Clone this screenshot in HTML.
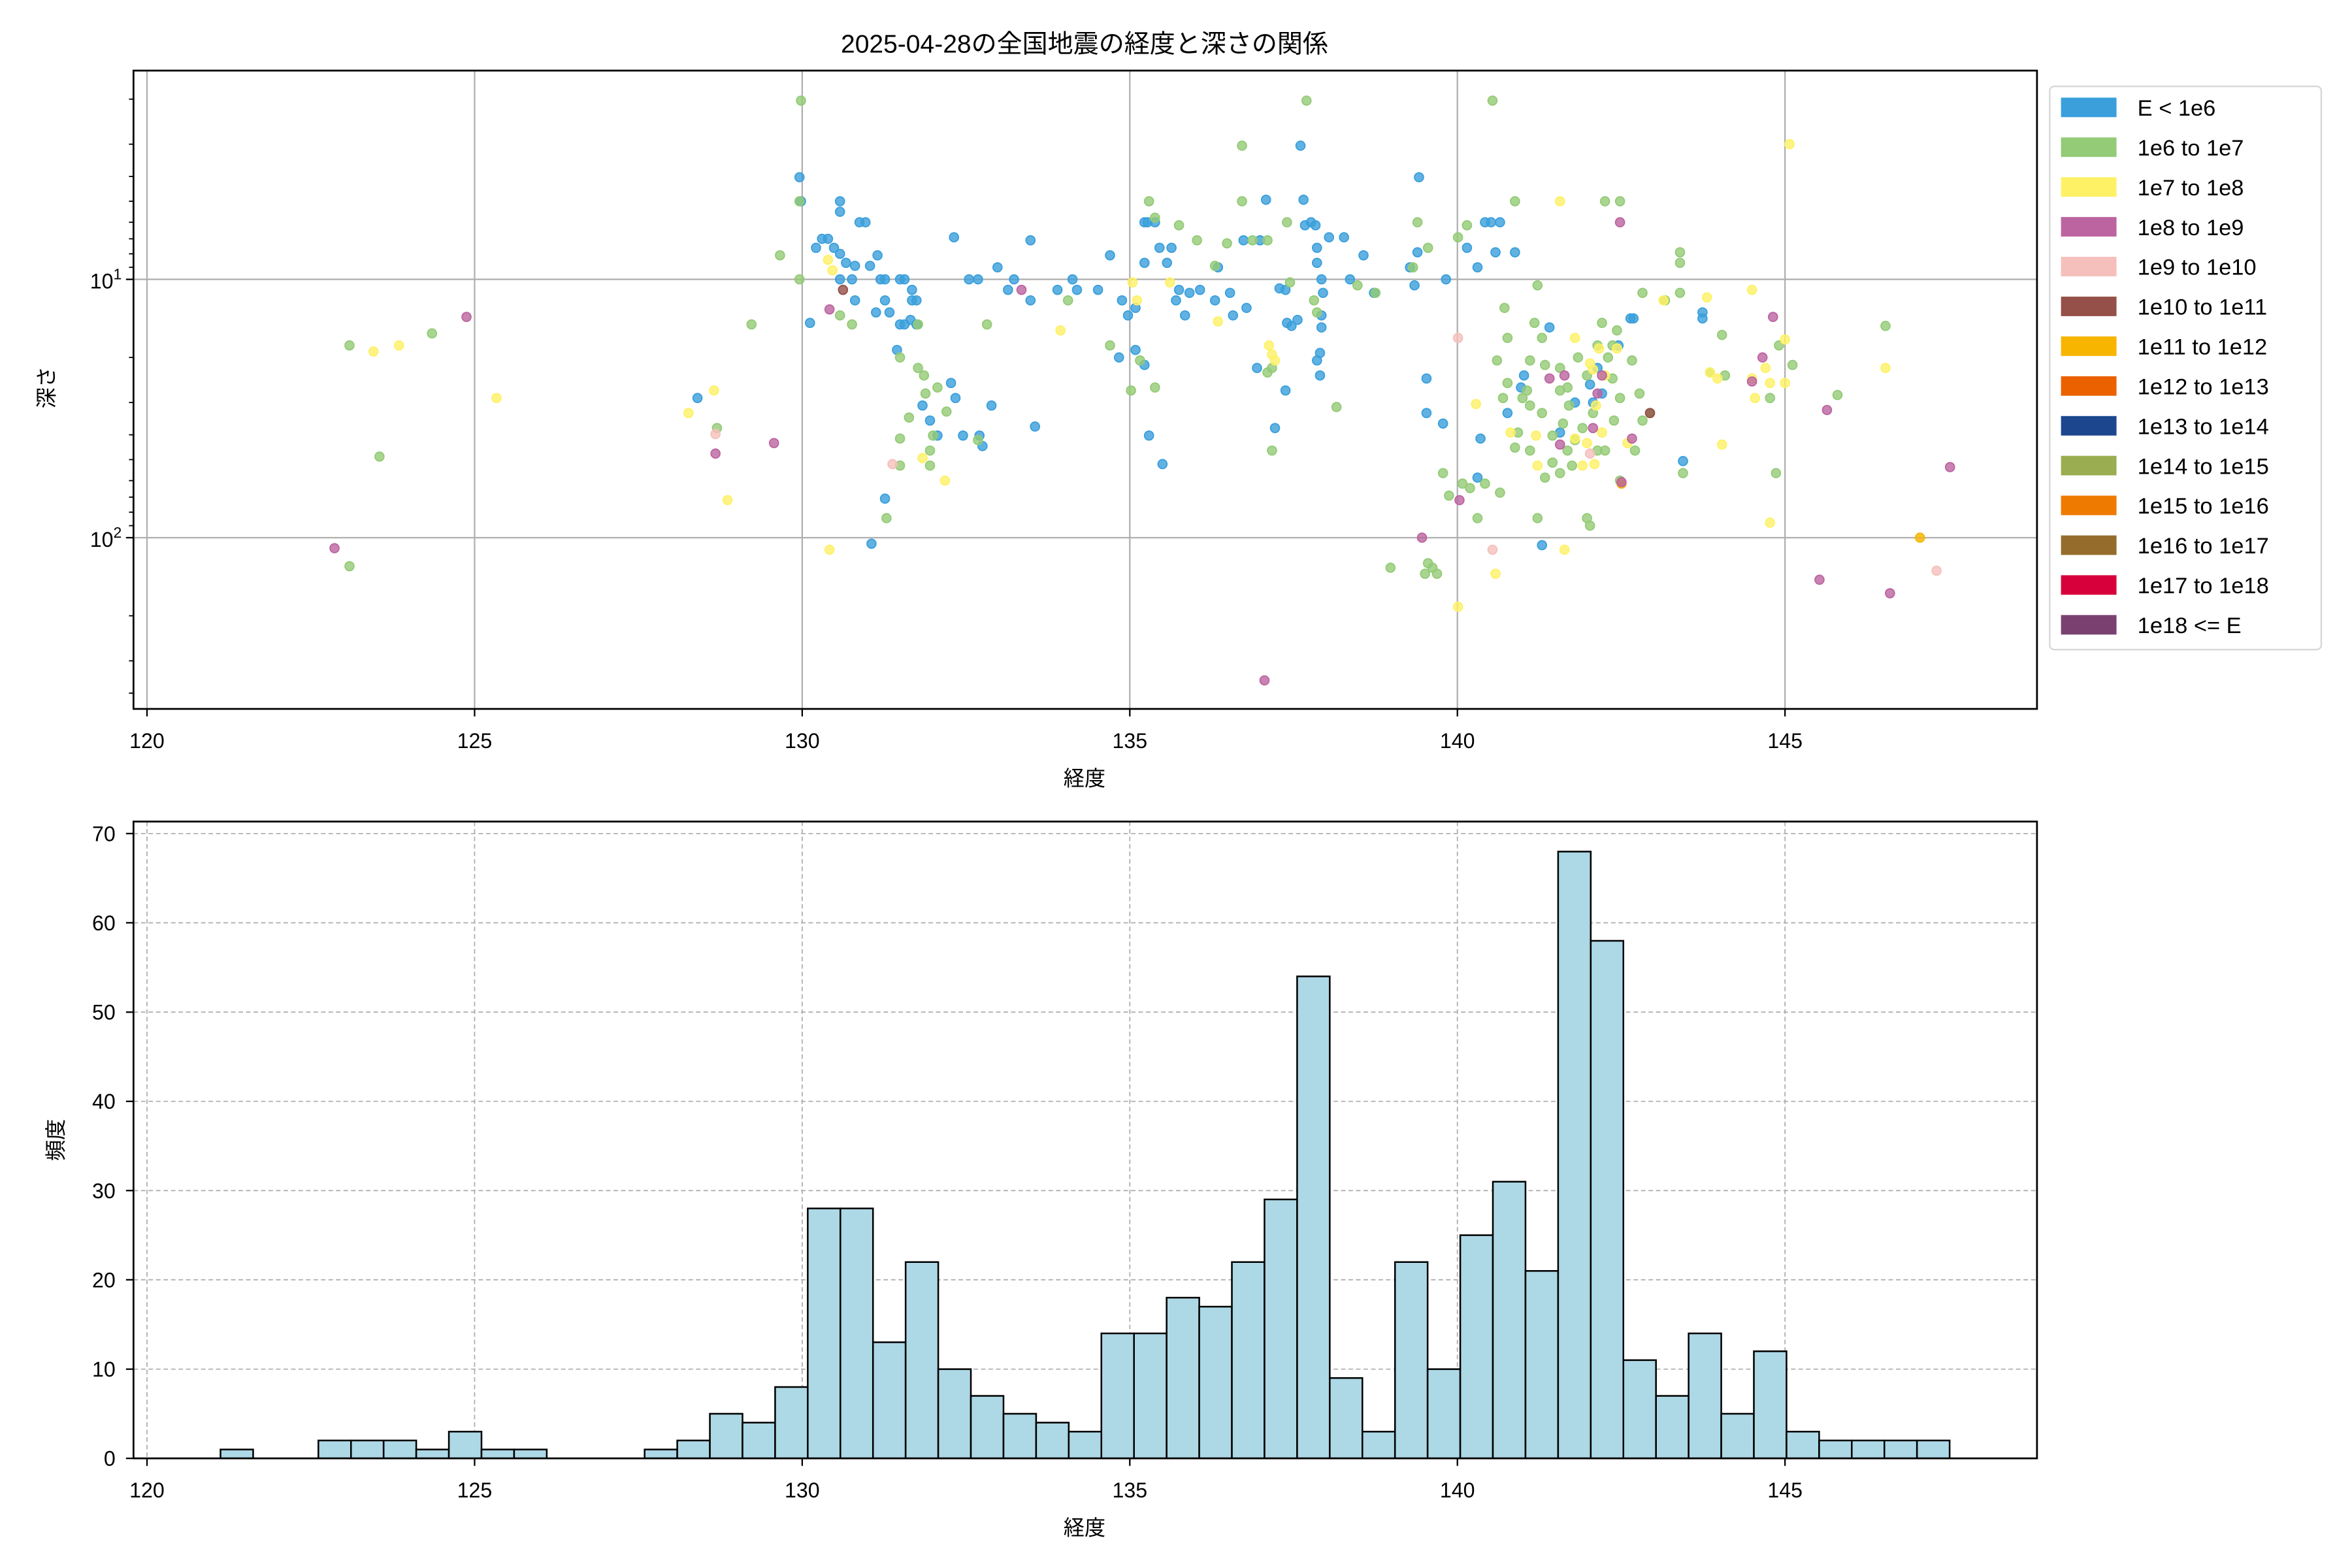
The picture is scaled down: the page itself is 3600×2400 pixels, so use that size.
<!DOCTYPE html>
<html><head><meta charset="utf-8"><style>
html,body{margin:0;padding:0;background:#fff}
svg{display:block}
text{font-family:"Liberation Sans","Noto Sans CJK JP",sans-serif;fill:#000}
.b circle{fill:#3a9fdb;stroke:#3a9fdb}
.g circle{fill:#93cb76;stroke:#93cb76}
.y circle{fill:#fef166;stroke:#fef166}
.p circle{fill:#bc64a0;stroke:#bc64a0}
.k circle{fill:#f5c0bb;stroke:#f5c0bb}
.r circle{fill:#955049;stroke:#955049}
.o circle{fill:#f7b500;stroke:#f7b500}
.pts circle{r:3;fill-opacity:.8;stroke-width:.8}
</style></head><body>
<svg width="3600" height="2400" viewBox="0 0 1568 1044" preserveAspectRatio="none" xmlns="http://www.w3.org/2000/svg">
<rect width="1568" height="1044" fill="#fff"/>
<text x="723" y="35" font-size="17" text-anchor="middle">2025-04-28の全国地震の経度と深さの関係</text>
<g stroke="#b0b0b0" stroke-width="1">
<line x1="98" y1="47" x2="98" y2="472"/><line x1="316.4" y1="47" x2="316.4" y2="472"/><line x1="534.8" y1="47" x2="534.8" y2="472"/><line x1="753.2" y1="47" x2="753.2" y2="472"/><line x1="971.6" y1="47" x2="971.6" y2="472"/><line x1="1190" y1="47" x2="1190" y2="472"/>
<line x1="89" y1="186" x2="1358" y2="186"/><line x1="89" y1="358" x2="1358" y2="358"/>
</g>
<g class="pts">
<g class="b">
<circle cx="533" cy="118"/><circle cx="534" cy="134"/><circle cx="560" cy="134"/><circle cx="560" cy="141"/><circle cx="573" cy="148"/><circle cx="577" cy="148"/><circle cx="548" cy="159"/><circle cx="552" cy="159"/><circle cx="544" cy="165"/><circle cx="556" cy="165"/><circle cx="560" cy="169"/><circle cx="564" cy="175"/><circle cx="570" cy="177"/><circle cx="580" cy="177"/><circle cx="587" cy="186"/><circle cx="590" cy="186"/><circle cx="560" cy="186"/><circle cx="568" cy="186"/><circle cx="600" cy="186"/><circle cx="603" cy="186"/><circle cx="608" cy="200"/><circle cx="611" cy="200"/><circle cx="590" cy="200"/><circle cx="608" cy="193"/><circle cx="570" cy="200"/><circle cx="584" cy="208"/><circle cx="593" cy="208"/><circle cx="607" cy="213"/><circle cx="611" cy="216"/><circle cx="600" cy="216"/><circle cx="603" cy="216"/><circle cx="598" cy="233"/><circle cx="615" cy="270"/><circle cx="620" cy="280"/><circle cx="625" cy="290"/><circle cx="634" cy="255"/><circle cx="637" cy="265"/><circle cx="646" cy="186"/><circle cx="652" cy="186"/><circle cx="642" cy="290"/><circle cx="653" cy="290"/><circle cx="655" cy="297"/><circle cx="661" cy="270"/><circle cx="636" cy="158"/><circle cx="665" cy="178"/><circle cx="672" cy="193"/><circle cx="676" cy="186"/><circle cx="687" cy="160"/><circle cx="690" cy="284"/><circle cx="687" cy="200"/><circle cx="715" cy="186"/><circle cx="705" cy="193"/><circle cx="718" cy="193"/><circle cx="732" cy="193"/><circle cx="740" cy="170"/><circle cx="748" cy="200"/><circle cx="752" cy="210"/><circle cx="757" cy="205"/><circle cx="757" cy="233"/><circle cx="763" cy="175"/><circle cx="763" cy="148"/><circle cx="765" cy="148"/><circle cx="770" cy="148"/><circle cx="773" cy="165"/><circle cx="781" cy="165"/><circle cx="778" cy="175"/><circle cx="786" cy="193"/><circle cx="784" cy="200"/><circle cx="793" cy="195"/><circle cx="790" cy="210"/><circle cx="800" cy="193"/><circle cx="812" cy="178"/><circle cx="810" cy="200"/><circle cx="820" cy="195"/><circle cx="822" cy="210"/><circle cx="829" cy="160"/><circle cx="831" cy="205"/><circle cx="840" cy="160"/><circle cx="844" cy="133"/><circle cx="853" cy="192"/><circle cx="857" cy="193"/><circle cx="861" cy="217"/><circle cx="865" cy="213"/><circle cx="858" cy="215"/><circle cx="869" cy="133"/><circle cx="870" cy="150"/><circle cx="874" cy="148"/><circle cx="877" cy="150"/><circle cx="878" cy="165"/><circle cx="878" cy="175"/><circle cx="881" cy="186"/><circle cx="882" cy="195"/><circle cx="881" cy="210"/><circle cx="881" cy="218"/><circle cx="878" cy="240"/><circle cx="880" cy="235"/><circle cx="886" cy="158"/><circle cx="867" cy="97"/><circle cx="896" cy="158"/><circle cx="900" cy="186"/><circle cx="850" cy="285"/><circle cx="857" cy="260"/><circle cx="909" cy="170"/><circle cx="916" cy="195"/><circle cx="940" cy="178"/><circle cx="943" cy="190"/><circle cx="945" cy="168"/><circle cx="946" cy="118"/><circle cx="951" cy="252"/><circle cx="951" cy="275"/><circle cx="964" cy="186"/><circle cx="978" cy="165"/><circle cx="985" cy="178"/><circle cx="990" cy="148"/><circle cx="994" cy="148"/><circle cx="997" cy="168"/><circle cx="1000" cy="148"/><circle cx="1010" cy="168"/><circle cx="1005" cy="275"/><circle cx="1014" cy="258"/><circle cx="1016" cy="250"/><circle cx="1033" cy="218"/><circle cx="1040" cy="288"/><circle cx="1060" cy="256"/><circle cx="1079" cy="230"/><circle cx="1087" cy="212"/><circle cx="1089" cy="212"/><circle cx="1135" cy="212"/><circle cx="1135" cy="208"/><circle cx="1122" cy="307"/><circle cx="1028" cy="363"/><circle cx="962" cy="282"/><circle cx="987" cy="292"/><circle cx="985" cy="318"/><circle cx="1065" cy="245"/><circle cx="1068" cy="262"/><circle cx="1050" cy="268"/><circle cx="1062" cy="268"/><circle cx="581" cy="362"/><circle cx="590" cy="332"/><circle cx="540" cy="215"/><circle cx="585" cy="170"/><circle cx="838" cy="245"/><circle cx="880" cy="250"/><circle cx="465" cy="265"/><circle cx="763" cy="243"/><circle cx="775" cy="309"/><circle cx="766" cy="290"/><circle cx="746" cy="238"/>
</g>
<g class="g">
<circle cx="534" cy="67"/><circle cx="533" cy="134"/><circle cx="533" cy="186"/><circle cx="520" cy="170"/><circle cx="501" cy="216"/><circle cx="568" cy="216"/><circle cx="560" cy="210"/><circle cx="612" cy="216"/><circle cx="600" cy="238"/><circle cx="616" cy="250"/><circle cx="612" cy="245"/><circle cx="600" cy="292"/><circle cx="600" cy="310"/><circle cx="591" cy="345"/><circle cx="631" cy="274"/><circle cx="620" cy="310"/><circle cx="625" cy="258"/><circle cx="617" cy="262"/><circle cx="606" cy="278"/><circle cx="652" cy="293"/><circle cx="658" cy="216"/><circle cx="712" cy="200"/><circle cx="740" cy="230"/><circle cx="754" cy="260"/><circle cx="770" cy="258"/><circle cx="760" cy="240"/><circle cx="766" cy="134"/><circle cx="770" cy="145"/><circle cx="786" cy="150"/><circle cx="798" cy="160"/><circle cx="810" cy="177"/><circle cx="818" cy="162"/><circle cx="828" cy="134"/><circle cx="835" cy="160"/><circle cx="845" cy="160"/><circle cx="858" cy="148"/><circle cx="871" cy="67"/><circle cx="828" cy="97"/><circle cx="876" cy="200"/><circle cx="878" cy="208"/><circle cx="891" cy="271"/><circle cx="905" cy="190"/><circle cx="917" cy="195"/><circle cx="945" cy="148"/><circle cx="952" cy="165"/><circle cx="942" cy="178"/><circle cx="972" cy="158"/><circle cx="995" cy="67"/><circle cx="1010" cy="134"/><circle cx="1070" cy="134"/><circle cx="1080" cy="134"/><circle cx="1023" cy="215"/><circle cx="1028" cy="225"/><circle cx="1020" cy="240"/><circle cx="1030" cy="243"/><circle cx="1040" cy="245"/><circle cx="1040" cy="260"/><circle cx="1045" cy="258"/><circle cx="1046" cy="270"/><circle cx="1052" cy="238"/><circle cx="1058" cy="250"/><circle cx="1065" cy="230"/><circle cx="1068" cy="215"/><circle cx="1072" cy="238"/><circle cx="1075" cy="230"/><circle cx="1078" cy="220"/><circle cx="1075" cy="252"/><circle cx="1080" cy="265"/><circle cx="1076" cy="280"/><circle cx="1065" cy="300"/><circle cx="1055" cy="285"/><circle cx="1050" cy="293"/><circle cx="1045" cy="300"/><circle cx="1040" cy="315"/><circle cx="1035" cy="308"/><circle cx="1030" cy="318"/><circle cx="1028" cy="275"/><circle cx="1012" cy="288"/><circle cx="1020" cy="300"/><circle cx="1020" cy="270"/><circle cx="1010" cy="298"/><circle cx="1005" cy="255"/><circle cx="998" cy="240"/><circle cx="990" cy="322"/><circle cx="985" cy="345"/><circle cx="980" cy="325"/><circle cx="966" cy="330"/><circle cx="955" cy="378"/><circle cx="950" cy="382"/><circle cx="952" cy="375"/><circle cx="958" cy="382"/><circle cx="927" cy="378"/><circle cx="1060" cy="350"/><circle cx="1058" cy="345"/><circle cx="1080" cy="320"/><circle cx="1090" cy="300"/><circle cx="1093" cy="262"/><circle cx="1095" cy="280"/><circle cx="1088" cy="240"/><circle cx="1100" cy="275"/><circle cx="1095" cy="195"/><circle cx="1110" cy="200"/><circle cx="1120" cy="195"/><circle cx="1120" cy="175"/><circle cx="1120" cy="168"/><circle cx="1122" cy="315"/><circle cx="1140" cy="248"/><circle cx="1148" cy="223"/><circle cx="1150" cy="250"/><circle cx="1180" cy="265"/><circle cx="1184" cy="315"/><circle cx="1186" cy="230"/><circle cx="1195" cy="243"/><circle cx="1257" cy="217"/><circle cx="1225" cy="263"/><circle cx="1025" cy="190"/><circle cx="1005" cy="225"/><circle cx="1002" cy="265"/><circle cx="1003" cy="205"/><circle cx="978" cy="150"/><circle cx="962" cy="315"/><circle cx="975" cy="322"/><circle cx="1000" cy="328"/><circle cx="233" cy="230"/><circle cx="288" cy="222"/><circle cx="253" cy="304"/><circle cx="233" cy="377"/><circle cx="478" cy="285"/><circle cx="622" cy="290"/><circle cx="620" cy="300"/><circle cx="1025" cy="345"/><circle cx="1015" cy="265"/><circle cx="1035" cy="290"/><circle cx="1048" cy="310"/><circle cx="1070" cy="300"/><circle cx="1062" cy="275"/><circle cx="1018" cy="260"/><circle cx="1042" cy="282"/><circle cx="848" cy="245"/><circle cx="845" cy="248"/><circle cx="848" cy="300"/><circle cx="860" cy="188"/>
</g>
<g class="y">
<circle cx="249" cy="234"/><circle cx="266" cy="230"/><circle cx="331" cy="265"/><circle cx="459" cy="275"/><circle cx="476" cy="260"/><circle cx="485" cy="333"/><circle cx="553" cy="366"/><circle cx="552" cy="173"/><circle cx="555" cy="180"/><circle cx="630" cy="320"/><circle cx="615" cy="305"/><circle cx="707" cy="220"/><circle cx="755" cy="188"/><circle cx="758" cy="200"/><circle cx="780" cy="188"/><circle cx="812" cy="214"/><circle cx="846" cy="230"/><circle cx="848" cy="236"/><circle cx="850" cy="240"/><circle cx="972" cy="404"/><circle cx="997" cy="382"/><circle cx="1043" cy="366"/><circle cx="1040" cy="134"/><circle cx="984" cy="269"/><circle cx="1007" cy="288"/><circle cx="1070" cy="250"/><circle cx="1062" cy="246"/><circle cx="1060" cy="242"/><circle cx="1064" cy="270"/><circle cx="1066" cy="232"/><circle cx="1025" cy="310"/><circle cx="1024" cy="290"/><circle cx="1055" cy="310"/><circle cx="1058" cy="295"/><circle cx="1068" cy="288"/><circle cx="1078" cy="232"/><circle cx="1050" cy="292"/><circle cx="1138" cy="198"/><circle cx="1168" cy="193"/><circle cx="1190" cy="226"/><circle cx="1180" cy="348"/><circle cx="1140" cy="248"/><circle cx="1145" cy="252"/><circle cx="1168" cy="252"/><circle cx="1180" cy="255"/><circle cx="1190" cy="255"/><circle cx="1193" cy="96"/><circle cx="1148" cy="296"/><circle cx="1109" cy="200"/><circle cx="1050" cy="225"/><circle cx="1257" cy="245"/><circle cx="1085" cy="295"/><circle cx="1063" cy="309"/><circle cx="1177" cy="245"/><circle cx="1170" cy="265"/>
</g>
<g class="p">
<circle cx="223" cy="365"/><circle cx="311" cy="211"/><circle cx="477" cy="302"/><circle cx="516" cy="295"/><circle cx="553" cy="206"/><circle cx="681" cy="193"/><circle cx="948" cy="358"/><circle cx="973" cy="333"/><circle cx="1080" cy="148"/><circle cx="1068" cy="250"/><circle cx="1043" cy="250"/><circle cx="1065" cy="262"/><circle cx="1088" cy="292"/><circle cx="1168" cy="254"/><circle cx="1175" cy="238"/><circle cx="1218" cy="273"/><circle cx="1213" cy="386"/><circle cx="1260" cy="395"/><circle cx="1300" cy="311"/><circle cx="1062" cy="285"/><circle cx="1182" cy="211"/><circle cx="1040" cy="296"/><circle cx="843" cy="453"/><circle cx="1033" cy="252"/>
</g>
<g class="k">
<circle cx="477" cy="289"/><circle cx="595" cy="309"/><circle cx="972" cy="225"/><circle cx="995" cy="366"/><circle cx="1291" cy="380"/><circle cx="1060" cy="302"/>
</g>
<g class="r"><circle cx="562" cy="193" r="4"/><circle cx="1100" cy="275" r="4"/></g>
<g class="o"><circle cx="1081" cy="322" r="5"/><circle cx="1280" cy="358" r="5"/></g>
<g class="p"><circle cx="1081" cy="321" r="3.5"/></g>
</g>
<rect x="89" y="47" width="1269" height="425" fill="none" stroke="#000" stroke-width="1.2"/>
<g stroke="#000" stroke-width="1">
<line x1="98" y1="472" x2="98" y2="477"/><line x1="316.4" y1="472" x2="316.4" y2="477"/><line x1="534.8" y1="472" x2="534.8" y2="477"/><line x1="753.2" y1="472" x2="753.2" y2="477"/><line x1="971.6" y1="472" x2="971.6" y2="477"/><line x1="1190" y1="472" x2="1190" y2="477"/>
<line x1="84" y1="186" x2="89" y2="186"/><line x1="84" y1="358" x2="89" y2="358"/>
<g stroke-width=".8">
<line x1="86" y1="66" x2="89" y2="66"/><line x1="86" y1="96" x2="89" y2="96"/><line x1="86" y1="117.5" x2="89" y2="117.5"/><line x1="86" y1="134" x2="89" y2="134"/><line x1="86" y1="148" x2="89" y2="148"/><line x1="86" y1="159" x2="89" y2="159"/><line x1="86" y1="169" x2="89" y2="169"/><line x1="86" y1="178" x2="89" y2="178"/>
<line x1="86" y1="238" x2="89" y2="238"/><line x1="86" y1="268" x2="89" y2="268"/><line x1="86" y1="289.5" x2="89" y2="289.5"/><line x1="86" y1="306" x2="89" y2="306"/><line x1="86" y1="320" x2="89" y2="320"/><line x1="86" y1="331" x2="89" y2="331"/><line x1="86" y1="341" x2="89" y2="341"/><line x1="86" y1="350" x2="89" y2="350"/>
<line x1="86" y1="410" x2="89" y2="410"/><line x1="86" y1="440" x2="89" y2="440"/><line x1="86" y1="461.5" x2="89" y2="461.5"/>
</g></g>
<g font-size="14" text-anchor="middle">
<text x="98" y="498">120</text><text x="316.4" y="498">125</text><text x="534.8" y="498">130</text><text x="753.2" y="498">135</text><text x="971.6" y="498">140</text><text x="1190" y="498">145</text>
</g>
<text x="60" y="192" font-size="14">10<tspan font-size="10" dy="-6">1</tspan></text>
<text x="60" y="364" font-size="14">10<tspan font-size="10" dy="-6">2</tspan></text>
<text x="723" y="523" font-size="14" text-anchor="middle">経度</text>
<text transform="translate(36,258) rotate(-90)" font-size="14" text-anchor="middle">深さ</text>
<rect x="1366.5" y="57.5" width="181" height="375" rx="3" fill="#fff" stroke="#d6d6d6"/>
<g>
<rect x="1374" y="65" width="37" height="13" fill="#3a9fdb"/><rect x="1374" y="91.5" width="37" height="13" fill="#93cb76"/><rect x="1374" y="118" width="37" height="13" fill="#fef166"/><rect x="1374" y="144.5" width="37" height="13" fill="#bc64a0"/><rect x="1374" y="171" width="37" height="13" fill="#f5c0bb"/><rect x="1374" y="197.5" width="37" height="13" fill="#955049"/><rect x="1374" y="224" width="37" height="13" fill="#f7b500"/><rect x="1374" y="250.5" width="37" height="13" fill="#eb6100"/><rect x="1374" y="277" width="37" height="13" fill="#1c478e"/><rect x="1374" y="303.5" width="37" height="13" fill="#9aad50"/><rect x="1374" y="330" width="37" height="13" fill="#ef7a00"/><rect x="1374" y="356.5" width="37" height="13" fill="#956c2c"/><rect x="1374" y="383" width="37" height="13" fill="#d8003b"/><rect x="1374" y="409.5" width="37" height="13" fill="#7a4170"/>
</g>
<g font-size="15">
<text x="1425" y="77">E &lt; 1e6</text><text x="1425" y="103.5">1e6 to 1e7</text><text x="1425" y="130">1e7 to 1e8</text><text x="1425" y="156.5">1e8 to 1e9</text><text x="1425" y="183">1e9 to 1e10</text><text x="1425" y="209.5">1e10 to 1e11</text><text x="1425" y="236">1e11 to 1e12</text><text x="1425" y="262.5">1e12 to 1e13</text><text x="1425" y="289">1e13 to 1e14</text><text x="1425" y="315.5">1e14 to 1e15</text><text x="1425" y="342">1e15 to 1e16</text><text x="1425" y="368.5">1e16 to 1e17</text><text x="1425" y="395">1e17 to 1e18</text><text x="1425" y="421.5">1e18 &lt;= E</text>
</g>
<g stroke="#b0b0b0" stroke-width=".8" stroke-dasharray="3,2">
<line x1="98" y1="547" x2="98" y2="971"/><line x1="316.4" y1="547" x2="316.4" y2="971"/><line x1="534.8" y1="547" x2="534.8" y2="971"/><line x1="753.2" y1="547" x2="753.2" y2="971"/><line x1="971.6" y1="547" x2="971.6" y2="971"/><line x1="1190" y1="547" x2="1190" y2="971"/>
<line x1="89" y1="911.6" x2="1358" y2="911.6"/><line x1="89" y1="852.1" x2="1358" y2="852.1"/><line x1="89" y1="792.7" x2="1358" y2="792.7"/><line x1="89" y1="733.3" x2="1358" y2="733.3"/><line x1="89" y1="673.9" x2="1358" y2="673.9"/><line x1="89" y1="614.4" x2="1358" y2="614.4"/><line x1="89" y1="555" x2="1358" y2="555"/>
</g>
<g fill="#add8e6" stroke="#000" stroke-width="1.1">
<rect x="147" y="965.1" width="21.75" height="5.9"/>
<rect x="212.25" y="959.1" width="21.75" height="11.9"/><rect x="234" y="959.1" width="21.75" height="11.9"/><rect x="255.75" y="959.1" width="21.75" height="11.9"/><rect x="277.5" y="965.1" width="21.75" height="5.9"/><rect x="299.25" y="953.2" width="21.75" height="17.8"/><rect x="321" y="965.1" width="21.75" height="5.9"/><rect x="342.75" y="965.1" width="21.75" height="5.9"/>
<rect x="429.75" y="965.1" width="21.75" height="5.9"/><rect x="451.5" y="959.1" width="21.75" height="11.9"/><rect x="473.25" y="941.3" width="21.75" height="29.7"/><rect x="495" y="947.2" width="21.75" height="23.8"/><rect x="516.75" y="923.5" width="21.75" height="47.5"/><rect x="538.5" y="804.6" width="21.75" height="166.4"/><rect x="560.25" y="804.6" width="21.75" height="166.4"/><rect x="582" y="893.7" width="21.75" height="77.3"/><rect x="603.75" y="840.3" width="21.75" height="130.7"/><rect x="625.5" y="911.6" width="21.75" height="59.4"/><rect x="647.25" y="929.4" width="21.75" height="41.6"/><rect x="669" y="941.3" width="21.75" height="29.7"/><rect x="690.75" y="947.2" width="21.75" height="23.8"/><rect x="712.5" y="953.2" width="21.75" height="17.8"/><rect x="734.25" y="887.8" width="21.75" height="83.2"/><rect x="756" y="887.8" width="21.75" height="83.2"/><rect x="777.75" y="864" width="21.75" height="107"/><rect x="799.5" y="870" width="21.75" height="101"/><rect x="821.25" y="840.3" width="21.75" height="130.7"/><rect x="843" y="798.6" width="21.75" height="172.4"/><rect x="864.75" y="650.1" width="21.75" height="320.9"/><rect x="886.5" y="917.5" width="21.75" height="53.5"/><rect x="908.25" y="953.2" width="21.75" height="17.8"/><rect x="930" y="840.3" width="21.75" height="130.7"/><rect x="951.75" y="911.6" width="21.75" height="59.4"/><rect x="973.5" y="822.4" width="21.75" height="148.6"/><rect x="995.25" y="786.8" width="21.75" height="184.2"/><rect x="1017" y="846.2" width="21.75" height="124.8"/><rect x="1038.75" y="567" width="21.75" height="404"/><rect x="1060.5" y="626.4" width="21.75" height="344.6"/><rect x="1082.25" y="905.6" width="21.75" height="65.4"/><rect x="1104" y="929.4" width="21.75" height="41.6"/><rect x="1125.75" y="887.8" width="21.75" height="83.2"/><rect x="1147.5" y="941.3" width="21.75" height="29.7"/><rect x="1169.25" y="899.7" width="21.75" height="71.3"/><rect x="1191" y="953.2" width="21.75" height="17.8"/><rect x="1212.75" y="959.1" width="21.75" height="11.9"/><rect x="1234.5" y="959.1" width="21.75" height="11.9"/><rect x="1256.25" y="959.1" width="21.75" height="11.9"/><rect x="1278" y="959.1" width="21.75" height="11.9"/>
</g>
<rect x="89" y="547" width="1269" height="424" fill="none" stroke="#000" stroke-width="1.2"/>
<g stroke="#000" stroke-width="1">
<line x1="98" y1="971" x2="98" y2="976"/><line x1="316.4" y1="971" x2="316.4" y2="976"/><line x1="534.8" y1="971" x2="534.8" y2="976"/><line x1="753.2" y1="971" x2="753.2" y2="976"/><line x1="971.6" y1="971" x2="971.6" y2="976"/><line x1="1190" y1="971" x2="1190" y2="976"/>
<line x1="84" y1="971" x2="89" y2="971"/><line x1="84" y1="911.6" x2="89" y2="911.6"/><line x1="84" y1="852.1" x2="89" y2="852.1"/><line x1="84" y1="792.7" x2="89" y2="792.7"/><line x1="84" y1="733.3" x2="89" y2="733.3"/><line x1="84" y1="673.9" x2="89" y2="673.9"/><line x1="84" y1="614.4" x2="89" y2="614.4"/><line x1="84" y1="555" x2="89" y2="555"/>
</g>
<g font-size="14" text-anchor="middle">
<text x="98" y="997">120</text><text x="316.4" y="997">125</text><text x="534.8" y="997">130</text><text x="753.2" y="997">135</text><text x="971.6" y="997">140</text><text x="1190" y="997">145</text>
</g>
<g font-size="14" text-anchor="end">
<text x="77" y="976">0</text><text x="77" y="916.6">10</text><text x="77" y="857.1">20</text><text x="77" y="797.7">30</text><text x="77" y="738.3">40</text><text x="77" y="678.9">50</text><text x="77" y="619.4">60</text><text x="77" y="560">70</text>
</g>
<text x="723" y="1022" font-size="14" text-anchor="middle">経度</text>
<text transform="translate(42,759) rotate(-90)" font-size="14" text-anchor="middle">頻度</text>
</svg>
</body></html>
